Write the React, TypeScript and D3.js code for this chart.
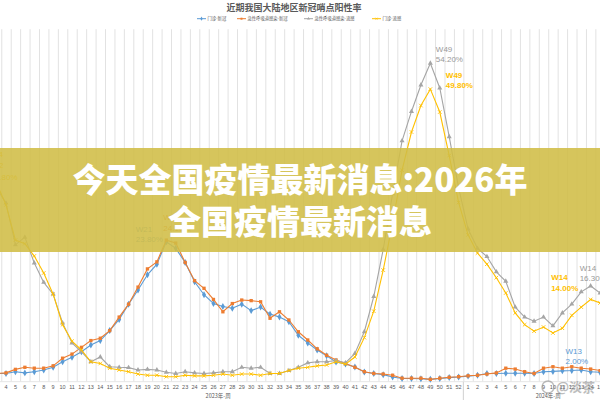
import React from 'react';
import * as d3 from 'd3';

// ---------- data ----------
const weeks2023 = [3,4,5,6,7,8,9,10,11,12,13,14,15,16,17,18,19,20,21,22,23,24,25,26,27,28,29,30,31,32,33,34,35,36,37,38,39,40,41,42,43,44,45,46,47,48,49,50,51,52];
const weeks2024 = [1,2,3,4,5,6,7,8,9,10,11,12,13,14,15,16];

const chartTitle = '近期我国大陆地区新冠哨点阳性率';
const seriesNames = ['门诊-新冠', '急性呼吸道感染-新冠', '急性呼吸道感染-流感', '门诊-流感'];
const yearLabels = ['2023年-周', '2024年-周'];

// blue
const covidOutpatient = [
  1.4,1.4,1.7,1.5,1.7,2.0,2.45,3.4,4.15,5.1,6.25,7.0,8.7,10.6,13.2,15.6,18.2,20.0,23.8,22.7,
  20.3,17.0,14.8,13.3,12.8,12.5,13.2,12.1,12.7,11.5,11.0,10.2,7.9,6.6,5.4,4.4,3.35,3.0,2.5,1.65,
  1.4,1.2,0.8,0.55,0.55,0.5,0.4,0.55,0.7,0.8,
  0.95,1.1,1.4,1.4,1.45,1.45,1.45,1.4,1.7,1.75,1.85,1.9,2.0,1.7,1.6,1.5
];
// orange
const covidSari = [
  1.4,1.5,2.1,2.45,2.3,2.3,2.7,4.0,4.7,5.85,7.0,7.4,8.7,11.0,13.2,16.1,19.2,20.4,24.1,23.6,
  20.3,17.2,15.9,14.0,11.9,13.3,13.9,13.8,13.6,10.8,11.9,10.5,8.5,7.1,5.6,4.5,3.7,3.1,2.45,1.7,
  1.4,1.3,1.1,0.6,0.6,0.6,0.4,0.6,0.75,0.85,
  1.0,1.1,1.3,1.5,2.3,2.15,1.7,1.4,2.3,2.55,2.3,2.55,2.3,2.15,1.9,1.8
];
// gray
const fluSari = [
  33.0,30.4,23.3,24.6,20.2,16.9,14.9,10.0,6.6,5.1,3.4,4.2,2.55,2.45,2.4,2.0,2.1,2.0,1.6,1.4,
  1.7,1.5,1.4,1.5,1.7,1.7,2.45,2.3,2.45,1.4,1.4,1.9,2.45,3.2,3.4,3.4,3.6,3.2,4.8,8.5,
  14.5,22.5,32.0,41.0,46.0,50.5,54.2,50.0,41.7,33.0,
  26.0,22.7,21.3,18.7,17.1,12.7,11.0,10.3,11.0,9.5,11.7,13.2,15.3,16.3,15.1,14.0
];
// yellow
const fluOutpatient = [
  33.8,30.1,24.1,23.5,21.4,18.5,14.9,9.7,6.9,5.4,3.4,3.1,2.3,2.0,1.7,1.3,1.1,1.1,0.85,0.85,
  1.1,1.0,1.0,1.1,1.3,1.1,1.3,1.3,1.1,1.4,1.4,1.9,2.3,2.45,2.7,2.85,3.4,3.0,4.2,7.5,
  12.0,19.0,27.0,36.0,42.5,47.0,49.8,45.9,38.5,30.5,
  25.0,21.9,20.0,17.7,15.1,11.7,9.7,8.6,9.3,8.3,9.1,11.3,12.7,14.0,13.4,12.8
];

// data labels: [series index, category key, line1, line2]
const dataLabels: [number, string, string, string][] = [
  [2, '2023-49', 'W49', '54.20%'],
  [3, '2023-49', 'W49', '49.80%'],
  [0, '2023-21', 'W21', '23.80%'],
  [1, '2023-21', 'W21', '24.10%'],
  [2, '2024-14', 'W14', '16.30%'],
  [3, '2024-14', 'W14', '14.00%'],
  [0, '2024-13', 'W13', '2.00%'],
];

const bannerLines = ['今天全国疫情最新消息:2026年', '全国疫情最新消息'];

// ---------- layout / style ----------
const COLORS = ['#5B9BD5', '#ED7D31', '#A5A5A5', '#FFC000'];
const LABEL_COLORS = ['#5B9BD5', '#ED7D31', '#999999', '#FFC000'];
const SYMBOLS = [d3.symbolDiamond, d3.symbolSquare, d3.symbolTriangle, d3.symbolX];
const SYMBOL_SIZES = [14, 11, 11, 10];
// label offsets relative to point (dx, dy of first baseline)
const LABEL_OFFSETS: Record<string, [number, number]> = {
  '2-2023-49': [5.5, -11.5],
  '3-2023-49': [15.5, -11.6],
  '0-2023-21': [-30.5, -10],
  '1-2023-21': [-3, -20],
  '2-2024-14': [-11, -15.4],
  '3-2024-14': [-39.5, -19],
  '0-2024-13': [-15.7, -16.4],
};

export default function App() {
  const cats = [...weeks2023.map((w) => `2023-${w}`), ...weeks2024.map((w) => `2024-${w}`)];
  const tickText = [...weeks2023, ...weeks2024].map(String);
  const bw = 9.43;
  const x0 = -8.15;
  const x = d3.scaleBand<string>().domain(cats).range([x0, x0 + cats.length * bw]).padding(0);
  const y = d3.scaleLinear().domain([0, 60]).range([381.7, 29.2]);
  const cx = (i: number) => (x(cats[i]) as number) + x.bandwidth() / 2;

  const series = [covidOutpatient, covidSari, fluSari, fluOutpatient];
  const lineGen = d3.line<number>().x((_, i) => cx(i)).y((v) => y(v));

  const plotTop = y(60);
  const plotBottom = y(0);

  const sep = x('2024-1') as number;
  const start2023 = (x('2023-3') as number) - 2 * x.bandwidth();
  const end2024 = sep + 18 * x.bandwidth();
  const groupCenters = [(start2023 + sep) / 2, (sep + end2024) / 2];

  const sym = (k: number) => d3.symbol().type(SYMBOLS[k]).size(SYMBOL_SIZES[k])() as string;

  const legendX = [197, 237, 304, 372];

  return (
    <svg
      width={600}
      height={400}
      style={{ position: 'absolute', left: 0, top: 0, background: '#fff' }}
      fontFamily="'Noto Sans CJK SC', 'Noto Sans', sans-serif"
    >
      <rect x={0} y={0} width={600} height={400} fill="#ffffff" />
      {/* vertical grid lines at category boundaries */}
      {cats.map((c) => (
        <line
          key={'g' + c}
          x1={(x(c) as number) + 0.5}
          x2={(x(c) as number) + 0.5}
          y1={plotTop}
          y2={plotBottom}
          stroke="#e2e2e2"
          strokeWidth={1}
        />
      ))}
      <line x1={0} x2={600} y1={plotBottom} y2={plotBottom} stroke="#e6e6e6" strokeWidth={1} />

      {/* title */}
      <text x={294} y={10.5} textAnchor="middle" fontSize={9} fontWeight={700} fill="#595959">
        {chartTitle}
      </text>

      {/* legend */}
      {seriesNames.map((n, k) => (
        <g key={'lg' + k} transform={`translate(${legendX[k]},18.7)`}>
          <line x1={0} x2={9} y1={0} y2={0} stroke={COLORS[k]} strokeWidth={1} />
          <path
            d={sym(k)}
            transform="translate(4.5,0) scale(0.6)"
            fill={k === 3 ? 'none' : COLORS[k]}
            stroke={k === 3 ? COLORS[k] : 'none'}
          />
          <text x={10.5} y={1.5} fontSize={4.3} fill="#595959">
            {n}
          </text>
        </g>
      ))}

      {/* series lines & markers */}
      {series.map((vals, k) => (
        <g key={'s' + k}>
          <path d={lineGen(vals) as string} fill="none" stroke={COLORS[k]} strokeWidth={1.1} />
          {vals.map((v, i) => (
            <path
              key={i}
              d={sym(k)}
              transform={`translate(${cx(i)},${y(v)})`}
              fill={k === 3 ? 'none' : COLORS[k]}
              stroke={k === 3 ? COLORS[k] : 'none'}
              strokeWidth={0.9}
            />
          ))}
        </g>
      ))}

      {/* data labels */}
      {dataLabels.map(([k, key, l1, l2]) => {
        const i = cats.indexOf(key);
        const px = cx(i);
        const py = y(series[k][i]);
        const [dx, dy] = LABEL_OFFSETS[`${k}-${key}`];
        return (
          <text
            key={'dl' + k + key}
            x={px + dx}
            y={py + dy}
            fontSize={8}
            fill={LABEL_COLORS[k]}
            fontFamily="'Liberation Sans', Arial, sans-serif"
            fontWeight={k === 3 ? 700 : 400}
          >
            <tspan x={px + dx}>{l1}</tspan>
            <tspan x={px + dx} dy={10.5}>
              {l2}
            </tspan>
          </text>
        );
      })}
      {/* labels cut at left edge */}
      <text x={3} y={157} textAnchor="end" fontSize={8} fill="#FFC000" fontFamily="'Liberation Sans', Arial, sans-serif">W4</text>
      <text x={3.5} y={168} textAnchor="end" fontSize={8} fill="#FFC000" fontFamily="'Liberation Sans', Arial, sans-serif">W2</text>
      <text x={17.5} y={180} textAnchor="end" fontSize={8} fill="#FFC000" fontFamily="'Liberation Sans', Arial, sans-serif">33.80%</text>

      {/* x axis tick labels */}
      {cats.map((c, i) => (
        <text
          key={'t' + c}
          x={cx(i)}
          y={389}
          textAnchor="middle"
          fontSize={5.5}
          fill="#595959"
          fontFamily="'Liberation Sans', Arial, sans-serif"
        >
          {tickText[i]}
        </text>
      ))}
      <line x1={sep} x2={sep} y1={plotBottom} y2={400} stroke="#d0d0d0" strokeWidth={1} />
      {yearLabels.map((t, j) => (
        <text key={'yl' + j} x={groupCenters[j]} y={397.5} textAnchor="middle" fontSize={5.5} fill="#595959">
          {t}
        </text>
      ))}

      {/* watermark */}
      <g opacity={0.55}>
        <circle cx={548} cy={387} r={6} fill="none" stroke="#888" strokeWidth={1.5} />
        <text x={556} y={392} fontSize={13} fill="#888" fontWeight={700}>@淡茶</text>
      </g>

      {/* banner overlay */}
      <rect x={0} y={148} width={600} height={104} fill="rgb(208,189,69)" opacity={0.88} />
      {bannerLines.map((t, j) => (
        <text
          key={'b' + j}
          x={300}
          y={192 + j * 42}
          textAnchor="middle"
          fontSize={33}
          fontWeight={900}
          fill="#ffffff"
          fontFamily="'Noto Sans CJK SC', sans-serif"
        >
          {t}
        </text>
      ))}
    </svg>
  );
}
